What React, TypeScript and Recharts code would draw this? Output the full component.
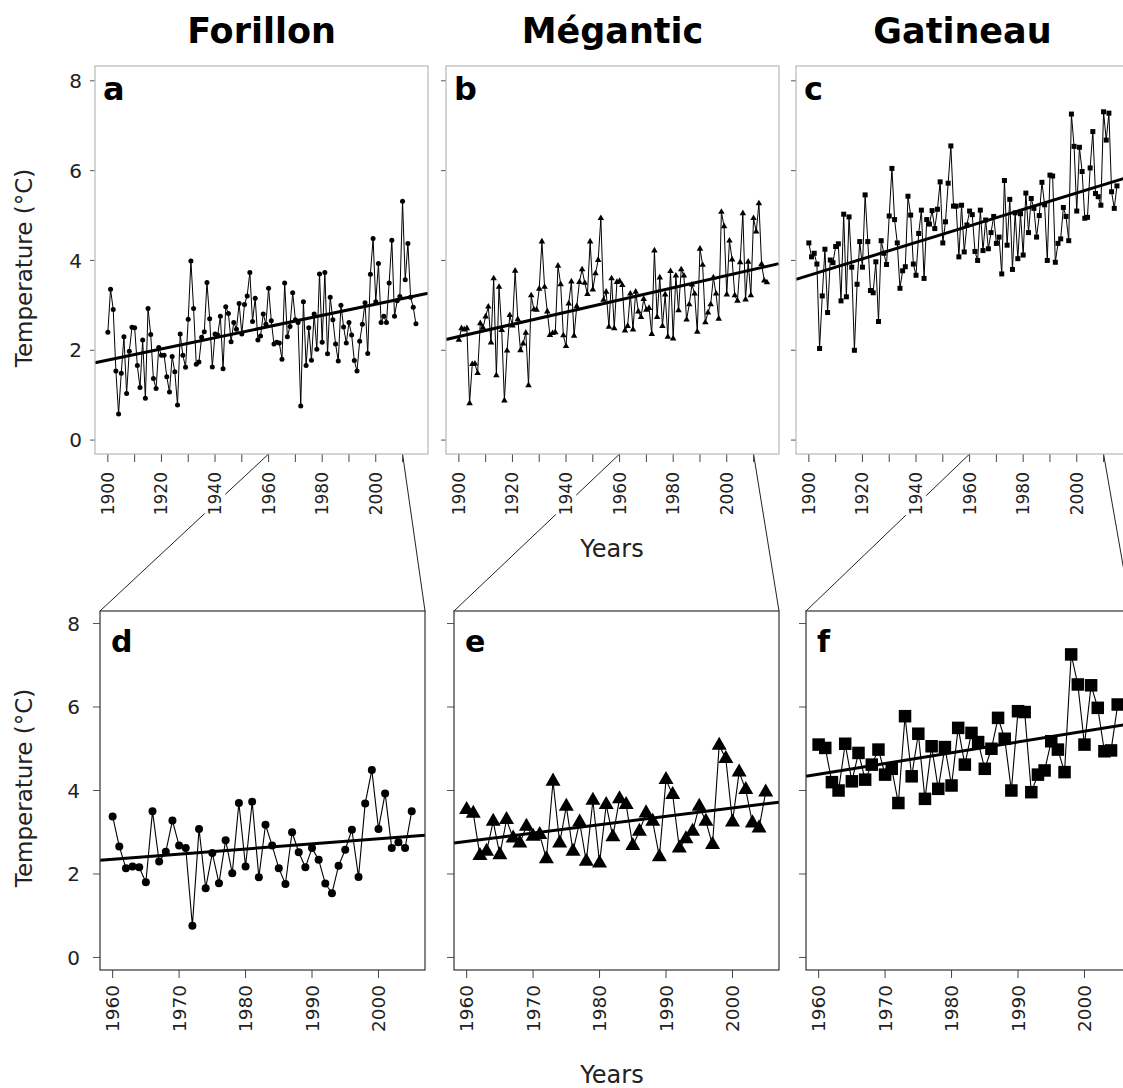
import React from 'react';
import { LineChart, Line, XAxis, YAxis, ReferenceLine } from 'recharts';

// annual mean temperature
const forillonEarly = [
  2.40, 3.36, 2.91, 1.54, 0.58, 1.49, 2.30, 1.04, 1.98, 2.51,
  2.50, 1.66, 1.17, 2.23, 0.93, 2.93, 2.35, 1.37, 1.15, 2.06,
  1.89, 1.89, 1.41, 1.07, 1.86, 1.52, 0.78, 2.36, 1.89, 1.62,
  2.69, 3.99, 2.93, 1.69, 1.74, 2.29, 2.41, 3.51, 2.70, 1.63,
  2.36, 2.34, 2.76, 1.59, 2.97, 2.82, 2.19, 2.62, 2.47, 3.04,
  2.36, 3.02, 3.21, 3.73, 2.64, 3.16, 2.23, 2.32, 2.81, 2.58,
];
const forillonRecent = [
  3.38, 2.66, 2.14, 2.18, 2.16, 1.80, 3.50, 2.30, 2.53, 3.28,
  2.68, 2.62, 0.76, 3.08, 1.66, 2.50, 1.78, 2.81, 2.02, 3.70,
  2.18, 3.73, 1.92, 3.18, 2.68, 2.14, 1.76, 3.00, 2.52, 2.16,
  2.62, 2.34, 1.77, 1.54, 2.20, 2.58, 3.06, 1.93, 3.69, 4.49,
  3.08, 3.93, 2.62, 2.76, 2.62, 3.50,
];
const forillonLate = [4.45, 2.76, 3.10, 3.20, 5.32, 3.57, 4.38, 3.18, 2.96, 2.59];

const meganticEarly = [
  2.23, 2.49, 2.46, 2.49, 0.82, 1.69, 1.70, 1.49, 2.60, 2.50,
  2.75, 2.97, 2.17, 3.60, 1.44, 3.41, 2.45, 0.88, 1.99, 2.78,
  2.55, 3.77, 2.69, 2.00, 2.15, 2.39, 1.22, 3.22, 2.91, 2.90,
  3.37, 4.42, 3.41, 2.86, 2.34, 2.38, 2.40, 3.88, 3.47, 2.33,
  2.09, 3.04, 3.53, 2.32, 2.98, 3.52, 3.80, 3.50, 3.25, 4.42,
  3.35, 3.71, 4.01, 4.94, 3.12, 3.30, 2.52, 3.60, 2.49, 3.52,
];
const meganticRecent = [
  3.54, 3.45, 2.44, 2.54, 3.26, 2.46, 3.30, 2.86, 2.74, 3.14,
  2.90, 2.94, 2.36, 4.22, 2.74, 3.62, 2.54, 3.24, 2.30, 3.76,
  2.26, 3.66, 2.89, 3.80, 3.66, 2.68, 3.02, 3.46, 3.26, 2.41,
  4.26, 3.90, 2.62, 2.84, 3.02, 3.62, 3.26, 2.70, 5.08, 4.76,
  3.24, 4.44, 4.02, 3.22, 3.10, 3.96,
];
const meganticLate = [5.05, 3.13, 3.97, 3.22, 4.94, 4.64, 5.27, 3.92, 3.55, 3.51];

const gatineauEarly = [
  4.39, 4.08, 4.16, 3.92, 2.04, 3.21, 4.25, 2.84, 4.01, 3.95,
  4.31, 4.37, 3.10, 5.03, 3.19, 4.97, 3.85, 2.00, 3.47, 4.42,
  3.85, 5.46, 4.42, 3.33, 3.28, 3.97, 2.64, 4.44, 4.16, 3.91,
  4.99, 6.05, 4.91, 4.39, 3.38, 3.77, 3.86, 5.43, 5.01, 3.92,
  3.67, 4.60, 5.12, 3.60, 4.91, 4.81, 5.11, 4.71, 5.14, 5.75,
  4.39, 4.86, 5.72, 6.55, 5.21, 5.21, 4.08, 5.23, 4.19, 4.79,
];
const gatineauRecent = [
  5.10, 5.02, 4.20, 4.00, 5.12, 4.22, 4.90, 4.26, 4.62, 4.98,
  4.38, 4.52, 3.70, 5.78, 4.34, 5.36, 3.80, 5.06, 4.04, 5.04,
  4.12, 5.50, 4.62, 5.38, 5.16, 4.52, 5.00, 5.74, 5.24, 4.00,
  5.90, 5.88, 3.96, 4.38, 4.48, 5.18, 4.98, 4.44, 7.26, 6.54,
  5.10, 6.52, 5.98, 4.94, 4.96, 6.06,
];
const gatineauLate = [6.87, 5.49, 5.42, 5.23, 7.31, 6.68, 7.28, 5.53, 5.16, 5.66];

// trend line values at the left and right panel edges
const trendLong = { forillon: [1.72, 3.27], megantic: [2.24, 3.93], gatineau: [3.58, 5.86] };
const trendShort = { forillon: [2.33, 2.93], megantic: [2.74, 3.72], gatineau: [4.34, 5.60] };

const sites = ['Forillon', 'Mégantic', 'Gatineau'];
const panelLetters = ['a', 'b', 'c', 'd', 'e', 'f'];
const longTicks = [1900, 1910, 1920, 1930, 1940, 1950, 1960, 1970, 1980, 1990, 2000, 2010];
const shortTicks = [1960, 1970, 1980, 1990, 2000];
const tempTicks = [0, 2, 4, 6, 8];

const LONG_DOMAIN = [1895.2, 2019.5];
const SHORT_DOMAIN = [1958.1, 2007];
const Y_DOMAIN_TOP = [-0.31, 8.33];
const Y_DOMAIN_BOT = [-0.3, 8.3];

const TOP = { y: 66, h: 388, w: 333, xs: [95, 446, 796] };
const BOT = { y: 611, h: 359, w: 325, xs: [100, 454, 806] };

const FONT = '"DejaVu Sans", Verdana, sans-serif';
const Y_AXIS_W = 45;
const X_AXIS_H = 80;
const PAD = 5;

const toSeries = (start: number, values: number[]) => values.map((v, i) => ({ year: start + i, temp: v }));

const longData = [
  toSeries(1900, [...forillonEarly, ...forillonRecent, ...forillonLate]),
  toSeries(1900, [...meganticEarly, ...meganticRecent, ...meganticLate]),
  toSeries(1900, [...gatineauEarly, ...gatineauRecent, ...gatineauLate]),
];
const shortData = [
  toSeries(1960, forillonRecent),
  toSeries(1960, meganticRecent),
  toSeries(1960, gatineauRecent),
];
const longTrends = [trendLong.forillon, trendLong.megantic, trendLong.gatineau];
const shortTrends = [trendShort.forillon, trendShort.megantic, trendShort.gatineau];

type Shape = 'circle' | 'triangle' | 'square';
const shapes: Shape[] = ['circle', 'triangle', 'square'];

const makeDot = (shape: Shape, size: number) => (p: any) => {
  const { cx, cy, index } = p;
  if (cx == null || cy == null) return <g key={index} />;
  if (shape === 'circle') return <circle key={index} cx={cx} cy={cy} r={size / 2} fill="#000" />;
  if (shape === 'square')
    return <rect key={index} x={cx - size / 2} y={cy - size / 2} width={size} height={size} fill="#000" />;
  const h = size * 0.87;
  const pts = `${cx},${cy - (h * 2) / 3} ${cx - size / 2},${cy + h / 3} ${cx + size / 2},${cy + h / 3}`;
  return <polygon key={index} points={pts} fill="#000" />;
};

const XTick = (props: any) => {
  const { x, y, payload, first, every, fontSize, gap } = props;
  const v = payload.value;
  if ((v - first) % every !== 0) return <g />;
  const label = String(v);
  const w = label.length * fontSize * 0.636;
  return (
    <g transform={`translate(${x},${y + gap})`}>
      <g transform="rotate(-90)">
        <rect x={-w - 4} y={-fontSize * 0.6} width={w + 8} height={fontSize * 1.2} fill="#fff" />
        <text x={0} y={0} textAnchor="end" dominantBaseline="central" fontSize={fontSize} fill="#222" fontFamily={FONT}>
          {label}
        </text>
      </g>
    </g>
  );
};

interface PanelProps {
  boxX: number;
  boxY: number;
  boxW: number;
  boxH: number;
  data: { year: number; temp: number }[];
  domainX: number[];
  domainY: number[];
  ticksX: number[];
  every: number;
  trend: number[];
  shape: Shape;
  markSize: number;
  lineW: number;
  showY: boolean;
  tickLen: number;
  yMargin: number;
  xFont: number;
  xGap: number;
}

const Panel: React.FC<PanelProps> = (p) => {
  const width = Y_AXIS_W + p.boxW + PAD;
  const height = PAD + p.boxH + X_AXIS_H;
  return (
    <div style={{ position: 'absolute', left: p.boxX - Y_AXIS_W, top: p.boxY - PAD, zIndex: 1 }}>
      <LineChart width={width} height={height} data={p.data} margin={{ top: PAD, right: PAD, left: 0, bottom: 0 }}>
        <XAxis
          dataKey="year"
          type="number"
          domain={p.domainX}
          allowDataOverflow
          ticks={p.ticksX}
          interval={0}
          height={X_AXIS_H}
          axisLine={false}
          tickLine={{ stroke: '#444' }}
          tickSize={8}
          tick={(t: any) => <XTick {...t} first={p.ticksX[0]} every={p.every} fontSize={p.xFont} gap={p.xGap} />}
        />
        <YAxis
          type="number"
          domain={p.domainY}
          allowDataOverflow
          ticks={tempTicks}
          interval={0}
          width={Y_AXIS_W}
          axisLine={false}
          tickLine={{ stroke: '#555' }}
          tickSize={p.tickLen}
          tickMargin={p.yMargin}
          tick={p.showY ? { fontSize: 20, fill: '#222', fontFamily: FONT } : () => <g />}
        />
        <Line
          dataKey="temp"
          stroke="#000"
          strokeWidth={p.lineW}
          dot={makeDot(p.shape, p.markSize)}
          activeDot={false}
          isAnimationActive={false}
        />
        <ReferenceLine
          segment={[
            { x: p.domainX[0], y: p.trend[0] },
            { x: p.domainX[1], y: p.trend[1] },
          ]}
          stroke="#000"
          strokeWidth={3}
          ifOverflow="visible"
        />
      </LineChart>
    </div>
  );
};

const topX = (i: number, year: number) =>
  TOP.xs[i] + ((year - LONG_DOMAIN[0]) / (LONG_DOMAIN[1] - LONG_DOMAIN[0])) * TOP.w;

export default function App() {
  return (
    <div
      style={{
        position: 'absolute',
        left: 0,
        top: 0,
        width: 1123,
        height: 1088,
        overflow: 'hidden',
        background: '#fff',
        fontFamily: FONT,
      }}
    >
      {/* zoom connectors, behind the charts */}
      <svg width={1123} height={1088} style={{ position: 'absolute', left: 0, top: 0, zIndex: 0 }}>
        {[0, 1, 2].map((i) => (
          <g key={i} stroke="#222" strokeWidth={1} fill="none">
            <line x1={topX(i, 1960)} y1={TOP.y + TOP.h} x2={BOT.xs[i]} y2={BOT.y} />
            <line x1={topX(i, 2010)} y1={TOP.y + TOP.h} x2={BOT.xs[i] + BOT.w} y2={BOT.y} />
          </g>
        ))}
      </svg>

      {[0, 1, 2].map((i) => (
        <Panel
          key={`top${i}`}
          boxX={TOP.xs[i]}
          boxY={TOP.y}
          boxW={TOP.w}
          boxH={TOP.h}
          data={longData[i]}
          domainX={LONG_DOMAIN}
          domainY={Y_DOMAIN_TOP}
          ticksX={longTicks}
          every={20}
          trend={longTrends[i]}
          shape={shapes[i]}
          markSize={i === 1 ? 6.5 : 5}
          lineW={1}
          showY={i === 0}
          tickLen={5}
          yMargin={8}
          xFont={17}
          xGap={8}
        />
      ))}
      {[0, 1, 2].map((i) => (
        <Panel
          key={`bot${i}`}
          boxX={BOT.xs[i]}
          boxY={BOT.y}
          boxW={BOT.w}
          boxH={BOT.h}
          data={shortData[i]}
          domainX={SHORT_DOMAIN}
          domainY={Y_DOMAIN_BOT}
          ticksX={shortTicks}
          every={10}
          trend={shortTrends[i]}
          shape={shapes[i]}
          markSize={i === 1 ? 15 : i === 2 ? 12.5 : 8}
          lineW={1.1}
          showY={i === 0}
          tickLen={7}
          yMargin={13}
          xFont={18.5}
          xGap={5}
        />
      ))}

      {/* frames and text */}
      <svg
        width={1123}
        height={1088}
        style={{ position: 'absolute', left: 0, top: 0, zIndex: 2, pointerEvents: 'none' }}
        fontFamily={FONT}
      >
        {TOP.xs.map((x, i) => (
          <rect key={`ft${i}`} x={x} y={TOP.y} width={TOP.w} height={TOP.h} fill="none" stroke="#b8b8b8" strokeWidth={1.2} />
        ))}
        {BOT.xs.map((x, i) => (
          <rect key={`fb${i}`} x={x} y={BOT.y} width={BOT.w} height={BOT.h} fill="none" stroke="#333" strokeWidth={1.2} />
        ))}
        {sites.map((s, i) => (
          <text key={s} x={TOP.xs[i] + TOP.w / 2} y={43} textAnchor="middle" fontSize={35} fontWeight="bold" fill="#000">
            {s}
          </text>
        ))}
        {panelLetters.slice(0, 3).map((l, i) => (
          <text key={l} x={TOP.xs[i] + 8} y={100} fontSize={32} fontWeight="bold" fill="#000">
            {l}
          </text>
        ))}
        {panelLetters.slice(3).map((l, i) => (
          <text key={l} x={BOT.xs[i] + 11} y={652} fontSize={30} fontWeight="bold" fill="#000">
            {l}
          </text>
        ))}
        <text x={612} y={557} textAnchor="middle" fontSize={24} fill="#222">
          Years
        </text>
        <text x={612} y={1083} textAnchor="middle" fontSize={24} fill="#222">
          Years
        </text>
        <text transform="translate(32,268) rotate(-90)" textAnchor="middle" fontSize={23} fill="#222">
          Temperature (°C)
        </text>
        <text transform="translate(32,788) rotate(-90)" textAnchor="middle" fontSize={23} fill="#222">
          Temperature (°C)
        </text>
      </svg>
    </div>
  );
}
